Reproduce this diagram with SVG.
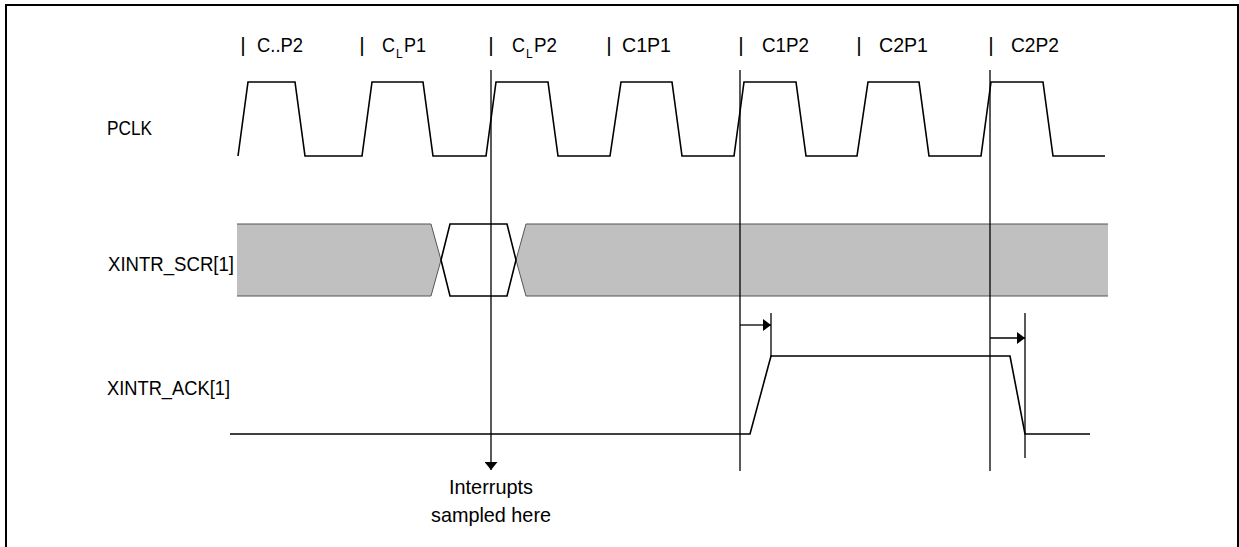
<svg xmlns="http://www.w3.org/2000/svg" width="1239" height="547" viewBox="0 0 1239 547">
<defs>
<style>
.t{font-family:"Liberation Sans",Arial,sans-serif;font-size:21px;fill:#000}
.p{font-family:"Liberation Sans",Arial,sans-serif;font-size:21px;fill:#000}
.s{font-family:"Liberation Sans",Arial,sans-serif;font-size:12px;fill:#000}
.w{fill:none;stroke:#000;stroke-width:1.6;stroke-linejoin:miter}
.v{fill:none;stroke:#000;stroke-width:1.3}
.g{fill:#c0c0c0;stroke:none}
.ge{fill:none;stroke:#555;stroke-width:1}
</style>
<marker id="ah" markerWidth="8" markerHeight="12" refX="8" refY="6" orient="auto" markerUnits="userSpaceOnUse">
<path d="M0,0 L8,6 L0,12 Z" fill="#000"/>
</marker>
<marker id="ad" markerWidth="8" markerHeight="13" refX="8" refY="6.5" orient="auto" markerUnits="userSpaceOnUse">
<path d="M0,0 L8,6.5 L0,13 Z" fill="#000"/>
</marker>
</defs>
<rect width="1239" height="547" fill="#fff"/>
<path d="M6,548 V5 H1238 V548" fill="none" stroke="#000" stroke-width="2"/>

<g id="labels">
<text class="t" x="107" y="135" textLength="45" lengthAdjust="spacingAndGlyphs">PCLK</text>
<text class="t" x="108" y="271" textLength="126" lengthAdjust="spacingAndGlyphs">XINTR_SCR[1]</text>
<text class="t" x="107" y="395" textLength="123" lengthAdjust="spacingAndGlyphs">XINTR_ACK[1]</text>
</g>

<g id="phase-labels">
<text class="p" x="243" y="52" text-anchor="middle">|</text>
<text class="p" x="257" y="52" textLength="46" lengthAdjust="spacingAndGlyphs">C..P2</text>
<text class="p" x="362" y="52" text-anchor="middle">|</text>
<text class="p" x="382" y="52" textLength="13" lengthAdjust="spacingAndGlyphs">C</text>
<text class="s" x="396" y="58">L</text>
<text class="p" x="404" y="52" textLength="22" lengthAdjust="spacingAndGlyphs">P1</text>
<text class="p" x="491" y="52" text-anchor="middle">|</text>
<text class="p" x="512" y="52" textLength="13" lengthAdjust="spacingAndGlyphs">C</text>
<text class="s" x="526" y="58">L</text>
<text class="p" x="534" y="52" textLength="23" lengthAdjust="spacingAndGlyphs">P2</text>
<text class="p" x="609" y="52" text-anchor="middle">|</text>
<text class="p" x="622" y="52" textLength="49" lengthAdjust="spacingAndGlyphs">C1P1</text>
<text class="p" x="741" y="52" text-anchor="middle">|</text>
<text class="p" x="762" y="52" textLength="47" lengthAdjust="spacingAndGlyphs">C1P2</text>
<text class="p" x="859" y="52" text-anchor="middle">|</text>
<text class="p" x="879" y="52" textLength="49" lengthAdjust="spacingAndGlyphs">C2P1</text>
<text class="p" x="991" y="52" text-anchor="middle">|</text>
<text class="p" x="1011" y="52" textLength="48" lengthAdjust="spacingAndGlyphs">C2P2</text>
</g>

<g id="pclk">
<path class="w" d="M238,156 L248,82 H295 L305,156 H362 L372,82 H423 L433,156 H486 L496,82 H548 L558,156 H610 L621,82 H672 L682,156 H734 L744,82 H796 L806,156 H857 L868,82 H919 L929,156 H981 L991,82 H1043 L1053,156 H1105"/>
</g>

<g id="xintr-scr">
<path class="g" d="M237,224 H431 L441,260 L431,296 H237 Z"/>
<path class="g" d="M526,224 H1108 V296 H526 L516,260 Z"/>
<path class="ge" d="M237,224 H431 L441,260 L431,296 H237"/>
<path class="ge" d="M1108,224 H526 L516,260 L526,296 H1108"/>
<path class="w" d="M441,260 L450,224 H507 L516,260 L507,296 H450 Z"/>
</g>

<g id="xintr-ack">
<path class="w" d="M230,434 H750 L771,356 H1010 L1025,434 H1090"/>
</g>

<g id="connectors">
<line class="v" x1="491" y1="70" x2="491" y2="470" marker-end="url(#ad)"/>
<line class="v" x1="740" y1="70" x2="740" y2="471"/>
<line class="v" x1="990" y1="70" x2="990" y2="471"/>
<line class="v" x1="771" y1="313" x2="771" y2="357"/>
<line class="v" x1="1025" y1="313" x2="1025" y2="458"/>
<line class="v" x1="740" y1="325" x2="771" y2="325" marker-end="url(#ah)"/>
<line class="v" x1="990" y1="338" x2="1025" y2="338" marker-end="url(#ah)"/>
</g>

<g id="note">
<text class="t" x="491" y="494" text-anchor="middle" textLength="84" lengthAdjust="spacingAndGlyphs">Interrupts</text>
<text class="t" x="491" y="522" text-anchor="middle" textLength="120" lengthAdjust="spacingAndGlyphs">sampled here</text>
</g>
</svg>
